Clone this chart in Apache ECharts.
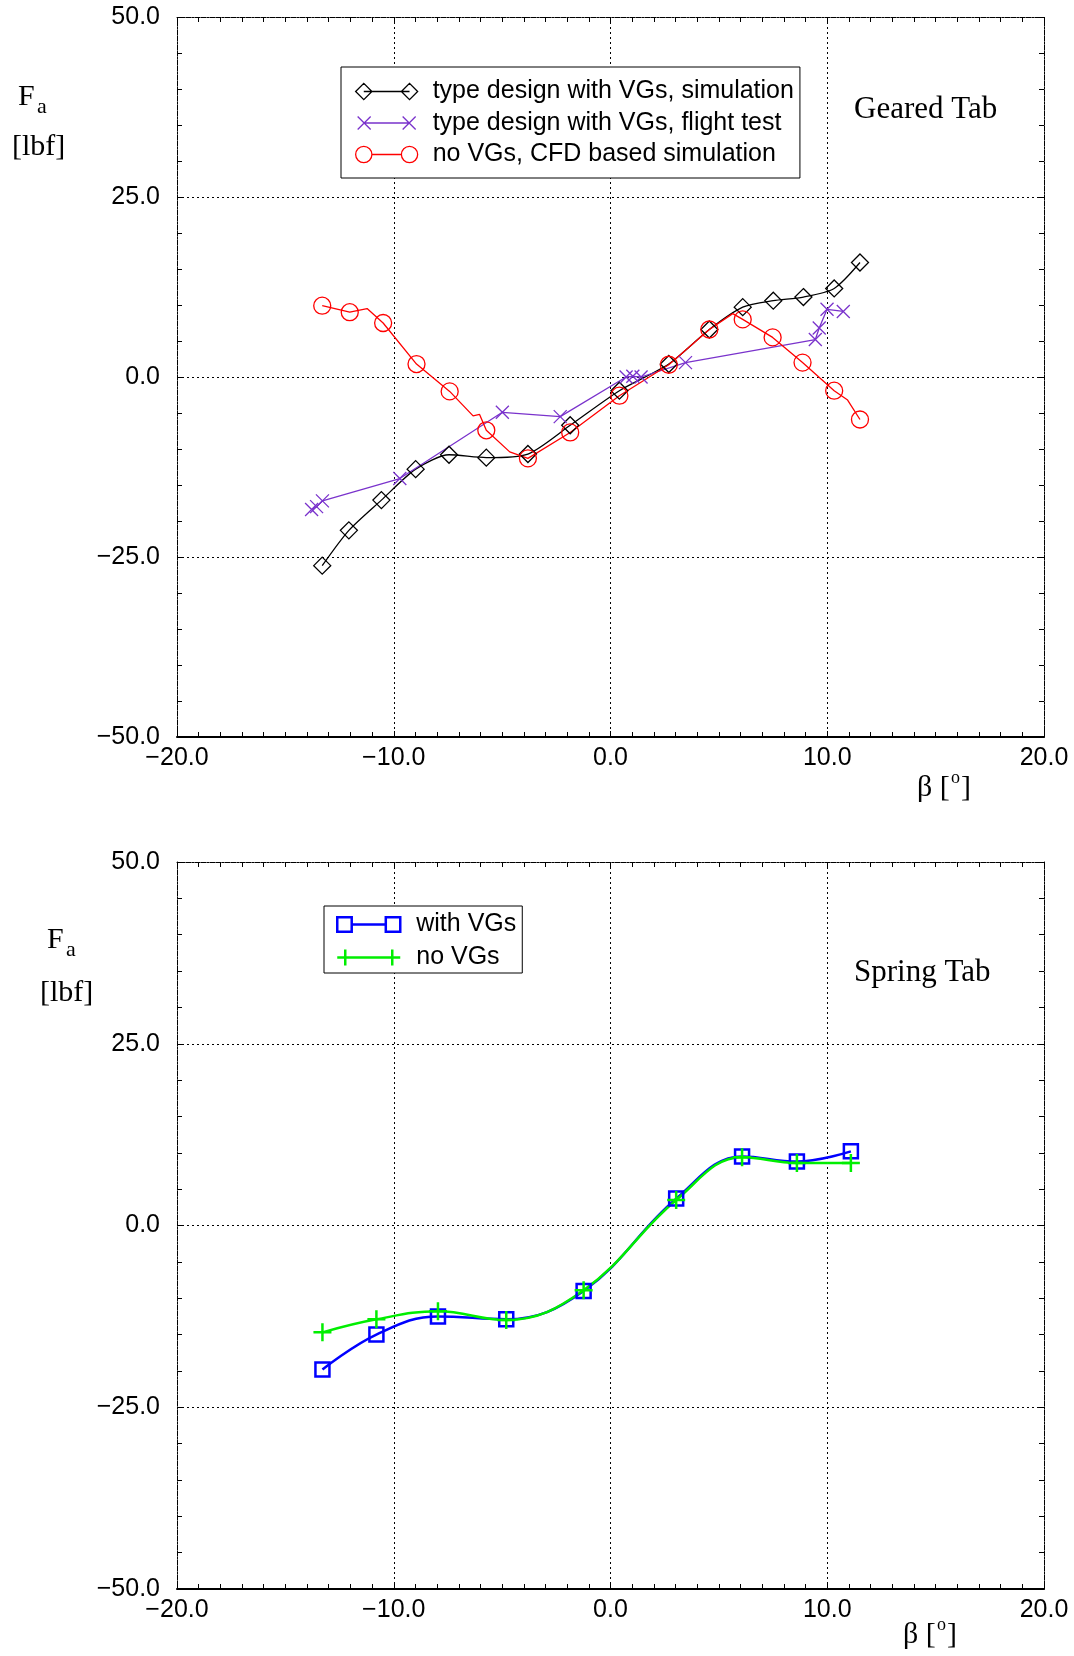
<!DOCTYPE html>
<html><head><meta charset="utf-8">
<script src="https://cdn.jsdelivr.net/npm/echarts@6/dist/echarts.min.js"></script>
<style>html,body{margin:0;padding:0;background:#fff}#c{width:1074px;height:1656px}</style>
</head><body><div id="c"></div>
<script>
// ---- axes / tick labels ----
const betaTicks = [-20, -10, 0, 10, 20];
const faTicks = [-50, -25, 0, 25, 50];

// ---- Geared Tab ----
const gearedNames = ['type design with VGs, simulation', 'type design with VGs, flight test', 'no VGs, CFD based simulation'];
const simBeta = [-13.30, -12.07, -10.57, -8.99, -7.45, -5.73, -3.81, -1.86, 0.41, 2.69, 4.56, 6.10, 7.51, 8.90, 10.32, 11.51];
const simFa   = [-26.2, -21.3, -17.1, -12.8, -10.8, -11.2, -10.7, -6.7, -1.9, 1.8, 6.6, 9.7, 10.6, 11.1, 12.3, 15.9];
const flightBeta = [-13.79, -13.56, -13.29, -9.72, -4.99, -2.32, 0.72, 1.03, 1.41, 3.46, 9.45, 9.63, 9.99, 10.74];
const flightFa   = [-18.4, -18.0, -17.2, -14.1, -4.9, -5.5, 0.0, 0.1, 0.0, 2.0, 5.2, 6.8, 9.4, 9.1];
const cfdBeta = [-13.30, -12.03, -10.49, -8.95, -7.42, -5.73, -3.81, -1.86, 0.41, 2.69, 4.56, 6.10, 7.48, 8.86, 10.32, 11.51];
const cfdFa   = [9.9, 9.0, 7.5, 1.8, -2.0, -7.4, -11.3, -7.7, -2.6, 1.7, 6.6, 8.0, 5.5, 2.0, -1.9, -5.9];
// unmarked bends of the CFD curve
const cfdBendBeta = [-11.23, -6.34, -6.04, -4.65, 5.64, 10.94];
const cfdBendFa   = [9.5, -5.4, -5.2, -10.4, 8.8, -3.2];

// ---- Spring Tab ----
const springNames = ['with VGs', 'no VGs'];
const springBeta = [-13.29, -10.80, -7.96, -4.81, -1.24, 3.03, 6.07, 8.60, 11.09];
const withVgFa   = [-19.8, -15.0, -12.5, -12.9, -9.0, 3.7, 9.5, 8.8, 10.2];
const noVgFa     = [-14.7, -12.9, -11.8, -13.0, -8.9, 3.5, 9.4, 8.6, 8.6];

const SANS = '"Liberation Sans", Arial, sans-serif';
const SERIF = '"Liberation Serif", "Times New Roman", serif';
const fmt = v => (v < 0 ? '\u2212' : '') + Math.abs(v).toFixed(1);
const pairs = (xs, ys) => xs.map((x, i) => [x, ys[i]]);

const cfdPath = pairs(cfdBeta, cfdFa).map(p => ({ value: p }))
  .concat(pairs(cfdBendBeta, cfdBendFa).map(p => ({ value: p, symbol: 'none' })))
  .sort((a, b) => a.value[0] - b.value[0]);

function xAx(g, pos) {
  const bottom = pos === 'bottom';
  return {
    type: 'value', gridIndex: g, position: pos,
    min: betaTicks[0], max: betaTicks[betaTicks.length - 1], interval: betaTicks[1] - betaTicks[0],
    axisLine: { show: true, onZero: false, lineStyle: { color: '#000', width: bottom ? 2 : 1, type: bottom ? 'solid' : [2, 1] } },
    axisTick: { show: true, inside: true, length: 6, lineStyle: { color: '#000', width: 1 } },
    minorTick: { show: true, splitNumber: 10, length: 5, lineStyle: { color: '#000', width: 1 } },
    splitLine: { show: bottom, lineStyle: { color: '#000', type: [2, 3], width: 1 } },
    axisLabel: { show: bottom, formatter: fmt, fontSize: 25, fontFamily: SANS, color: '#000', margin: 9, showMinLabel: true, showMaxLabel: true }
  };
}
function yAx(g, pos) {
  const left = pos === 'left';
  return {
    type: 'value', gridIndex: g, position: pos,
    min: faTicks[0], max: faTicks[faTicks.length - 1], interval: faTicks[1] - faTicks[0],
    axisLine: { show: true, onZero: false, lineStyle: { color: '#000', width: 1, type: [2, 1] } },
    axisTick: { show: true, inside: true, length: 6, lineStyle: { color: '#000', width: 1 } },
    minorTick: { show: true, splitNumber: 5, length: 5, lineStyle: { color: '#000', width: 1 } },
    splitLine: { show: left, lineStyle: { color: '#000', type: [2, 3], width: 1 } },
    axisLabel: { show: left, formatter: fmt, fontSize: 25, fontFamily: SANS, color: '#000', margin: 17, showMinLabel: true, showMaxLabel: true }
  };
}

const purple = '#7a33cc';
const crossPath = 'path://M0,0L10,10M0,10L10,0';
const plusPath = 'path://M5,0L5,10M0,5L10,5';

// legend icons: a line with the marker drawn at both ends
const iconDiamond = 'path://M0.5,8.5L8.5,0.5L16.5,8.5L8.5,16.5ZM8.5,8.5L53.5,8.5M45.5,8.5L53.5,0.5L61.5,8.5L53.5,16.5Z';
const iconCross = 'path://M2,2L15,15M2,15L15,2M8.5,8.5L53.5,8.5M47,2L60,15M47,15L60,2M0,0.01L0,0M62,17L62,16.99';
const iconCircle = 'path://M0.5,8.5A8,8,0,1,1,16.5,8.5A8,8,0,1,1,0.5,8.5ZM16.5,8.5L45.5,8.5M45.5,8.5A8,8,0,1,1,61.5,8.5A8,8,0,1,1,45.5,8.5Z';
const iconSquare = 'path://M1,1L15,1L15,15L1,15ZM15,8L48,8M48,1L62,1L62,15L48,15Z';
const iconPlus = 'path://M8,0L8,16M0,8L16,8M8,8L55,8M55,0L55,16M47,8L63,8';

const legendText = { fontSize: 25, fontFamily: SANS, color: '#000', lineHeight: 24 };

const option = {
  animation: false,
  backgroundColor: '#fff',
  grid: [
    { left: 177, right: 30, top: 17, height: 720, outerBoundsMode: 'none' },
    { left: 177, right: 30, top: 862, height: 727, outerBoundsMode: 'none' }
  ],
  xAxis: [xAx(0, 'bottom'), xAx(0, 'top'), xAx(1, 'bottom'), xAx(1, 'top')],
  yAxis: [yAx(0, 'left'), yAx(0, 'right'), yAx(1, 'left'), yAx(1, 'right')],
  legend: [
    {
      data: [
        { name: gearedNames[0], icon: iconDiamond, itemStyle: { color: 'rgba(255,255,255,0)', borderColor: '#000', borderWidth: 1.3 } },
        { name: gearedNames[1], icon: iconCross, itemStyle: { color: 'rgba(255,255,255,0)', borderColor: purple, borderWidth: 1.3 } },
        { name: gearedNames[2], icon: iconCircle, itemStyle: { color: 'rgba(255,255,255,0)', borderColor: '#ff0000', borderWidth: 1.3 } }
      ],
      orient: 'vertical', left: 341, top: 67,
      backgroundColor: '#fff', borderColor: '#000', borderWidth: 1, borderRadius: 0,
      padding: [12, 6, 11, 14], itemWidth: 62, itemHeight: 17, itemGap: 6.5,
      symbolKeepAspect: true,
      textStyle: Object.assign({ padding: [0, 0, 0, 10] }, legendText),
      selectedMode: false
    },
    {
      data: [
        { name: springNames[0], icon: iconSquare, itemStyle: { color: 'rgba(255,255,255,0)', borderColor: '#0000ff', borderWidth: 2.5 } },
        { name: springNames[1], icon: iconPlus, itemStyle: { color: 'rgba(255,255,255,0)', borderColor: '#00ee00', borderWidth: 2.5 } }
      ],
      orient: 'vertical', left: 324, top: 906,
      backgroundColor: '#fff', borderColor: '#000', borderWidth: 1, borderRadius: 0,
      padding: [6, 6, 3, 12], itemWidth: 63, itemHeight: 16, itemGap: 8,
      symbolKeepAspect: true,
      textStyle: Object.assign({ padding: [0, 0, 0, 11] }, legendText),
      selectedMode: false
    }
  ],
  series: [
    {
      name: gearedNames[0], type: 'line', xAxisIndex: 0, yAxisIndex: 0,
      data: pairs(simBeta, simFa), smooth: 0.25,
      symbol: 'diamond', symbolSize: 17,
      lineStyle: { color: '#000', width: 1.3 },
      itemStyle: { color: 'rgba(255,255,255,0)', borderColor: '#000', borderWidth: 1.3 }
    },
    {
      name: gearedNames[1], type: 'line', xAxisIndex: 0, yAxisIndex: 0,
      data: pairs(flightBeta, flightFa), smooth: false,
      symbol: crossPath, symbolSize: 13,
      lineStyle: { color: purple, width: 1.3 },
      itemStyle: { color: purple, borderColor: purple, borderWidth: 1.3 }
    },
    {
      name: gearedNames[2], type: 'line', xAxisIndex: 0, yAxisIndex: 0,
      data: cfdPath, smooth: false,
      symbol: 'circle', symbolSize: 17,
      lineStyle: { color: '#ff0000', width: 1.3 },
      itemStyle: { color: 'rgba(255,255,255,0)', borderColor: '#ff0000', borderWidth: 1.3 }
    },
    {
      name: springNames[0], type: 'line', xAxisIndex: 2, yAxisIndex: 2,
      data: pairs(springBeta, withVgFa), smooth: 0.4,
      symbol: 'rect', symbolSize: 14,
      lineStyle: { color: '#0000ff', width: 2.5 },
      itemStyle: { color: 'rgba(255,255,255,0)', borderColor: '#0000ff', borderWidth: 2.5 }
    },
    {
      name: springNames[1], type: 'line', xAxisIndex: 2, yAxisIndex: 2,
      data: pairs(springBeta, noVgFa), smooth: 0.4,
      symbol: plusPath, symbolSize: 18,
      lineStyle: { color: '#00ee00', width: 2.5 },
      itemStyle: { color: '#00ee00', borderColor: '#00ee00', borderWidth: 2.5 }
    }
  ],
  graphic: [
    { type: 'text', x: 854, y: 110, style: { text: 'Geared Tab', font: '31px ' + SERIF, fill: '#000', verticalAlign: 'middle' } },
    { type: 'text', x: 854, y: 973, style: { text: 'Spring Tab', font: '31px ' + SERIF, fill: '#000', verticalAlign: 'middle' } },
    // Fa labels
    { type: 'text', x: 18, y: 97, style: { text: 'F', font: '30px ' + SERIF, fill: '#000', verticalAlign: 'middle' } },
    { type: 'text', x: 37, y: 107, style: { text: 'a', font: '22px ' + SERIF, fill: '#000', verticalAlign: 'middle' } },
    { type: 'text', x: 12, y: 147, style: { text: '[lbf]', font: '30px ' + SERIF, fill: '#000', verticalAlign: 'middle' } },
    { type: 'text', x: 47, y: 940, style: { text: 'F', font: '30px ' + SERIF, fill: '#000', verticalAlign: 'middle' } },
    { type: 'text', x: 66, y: 950, style: { text: 'a', font: '22px ' + SERIF, fill: '#000', verticalAlign: 'middle' } },
    { type: 'text', x: 40, y: 993, style: { text: '[lbf]', font: '30px ' + SERIF, fill: '#000', verticalAlign: 'middle' } },
    // beta labels
    { type: 'text', x: 917, y: 788, style: { text: '\u03b2 [', font: '30px ' + SERIF, fill: '#000', verticalAlign: 'middle' } },
    { type: 'text', x: 951, y: 778, style: { text: 'o', font: '18px ' + SERIF, fill: '#000', verticalAlign: 'middle' } },
    { type: 'text', x: 961, y: 788, style: { text: ']', font: '30px ' + SERIF, fill: '#000', verticalAlign: 'middle' } },
    { type: 'text', x: 903, y: 1635, style: { text: '\u03b2 [', font: '30px ' + SERIF, fill: '#000', verticalAlign: 'middle' } },
    { type: 'text', x: 937, y: 1625, style: { text: 'o', font: '18px ' + SERIF, fill: '#000', verticalAlign: 'middle' } },
    { type: 'text', x: 947, y: 1635, style: { text: ']', font: '30px ' + SERIF, fill: '#000', verticalAlign: 'middle' } }
  ]
};
const chart = echarts.init(document.getElementById('c'), null, { renderer: 'canvas' });
chart.setOption(option);
</script>
</body></html>
